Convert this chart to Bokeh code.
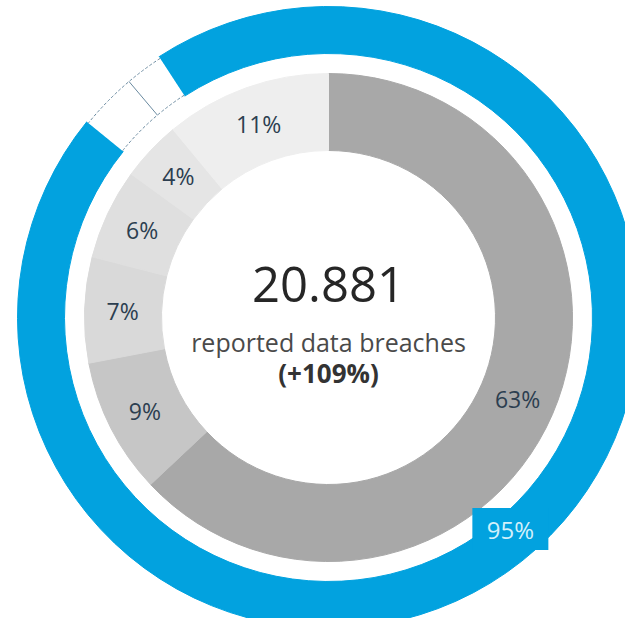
import numpy as np
from bokeh.plotting import figure
from bokeh.models import Range1d
from bokeh.embed import file_html
from bokeh.resources import INLINE
from bokeh.core.properties import value

# ---- data ----
segment_labels = ["63%", "9%", "7%", "6%", "4%", "11%"]
segment_values = [63, 9, 7, 6, 4, 11]
segment_colors = ["#a8a8a8", "#c6c6c6", "#d9d9d9", "#dfdfdf", "#e5e5e5", "#eeeeee"]

outer_value = 95          # share shown by the blue ring
gap_values = [3, 2]       # remaining share, drawn as two empty boxes
outer_label = "95%"

total_text = "20.881"
subtitle_text = "reported data breaches"
change_text = "(+109%)"

# ---- layout constants ----
BLUE = "#02a2df"
FONT = value("Open Sans")
W, H = 625, 618
CX, CY = 328, -317
R_IN, R_OUT = 167, 244          # grey ring
B_IN, B_OUT = 264, 311          # blue ring
BLUE_START = -0.0917            # start of blue ring (fraction, clockwise from top)
LABEL_R = 206


def ang(frac):
    """fraction clockwise from 12 o'clock -> math angle (rad)"""
    return np.pi / 2 - 2 * np.pi * np.asarray(frac, dtype=float)


p = figure(width=W, height=H, x_range=Range1d(0, W), y_range=Range1d(-H, 0),
           x_axis_type=None, y_axis_type=None, output_backend="svg",
           toolbar_location=None, min_border=0)
p.grid.visible = False
p.outline_line_color = None
p.background_fill_color = "white"
p.border_fill_color = "white"

# grey ring
vals = np.array(segment_values, dtype=float) / 100.0
c1 = np.cumsum(vals)
c0 = c1 - vals
p.annular_wedge(x=CX, y=CY, inner_radius=R_IN, outer_radius=R_OUT,
                start_angle=ang(c1), end_angle=ang(c0),
                fill_color=segment_colors, line_color=segment_colors, line_width=1)

# blue ring
b0 = BLUE_START
b1 = BLUE_START + outer_value / 100.0
p.annular_wedge(x=CX, y=CY, inner_radius=B_IN, outer_radius=B_OUT,
                start_angle=float(ang(b1)), end_angle=float(ang(b0)),
                fill_color=BLUE, line_color=BLUE, line_width=1)

# gap boxes
g = np.array(gap_values, dtype=float) / 100.0
g1 = b1 + np.cumsum(g)
g0 = g1 - g
p.annular_wedge(x=CX, y=CY, inner_radius=B_IN, outer_radius=B_OUT,
                start_angle=ang(g1), end_angle=ang(g0),
                fill_color="white", line_color=None)
gs, ge = float(ang(g1[-1])), float(ang(g0[0]))
for rr in (B_IN + 1, B_OUT - 2):
    p.arc(x=CX, y=CY, radius=rr, start_angle=gs, end_angle=ge,
          line_color="#6a8aa0", line_width=1, line_dash="3 2")
div = float(ang(g1[0]))
p.segment(x0=CX + (B_IN + 1) * np.cos(div), y0=CY + (B_IN + 1) * np.sin(div),
          x1=CX + (B_OUT - 2) * np.cos(div), y1=CY + (B_OUT - 2) * np.sin(div),
          line_color="#6a8aa0", line_width=1)

# 95% tag on blue ring
tag_a = float(ang(0.387))
tx, ty = CX + 279 * np.cos(tag_a), CY + 279 * np.sin(tag_a)
p.rect(x=tx, y=ty, width=76, height=42, fill_color=BLUE, line_color=None)
p.text(x=[tx], y=[ty], text=[outer_label], text_align="center", text_baseline="middle",
       text_font=FONT, text_font_size="24px", text_color="#d2f0fb")

# segment labels
mid = ang((c0 + c1) / 2)
p.text(x=CX + LABEL_R * np.cos(mid), y=CY + LABEL_R * np.sin(mid), text=segment_labels,
       text_align="center", text_baseline="middle", text_font=FONT,
       text_font_size="23px", text_color="#2c3e50")

# centre texts
p.text(x=[CX], y=[-284], text=[total_text], text_align="center", text_baseline="middle",
       text_font=FONT, text_font_size="49px", text_color="#262626")
p.text(x=[CX], y=[-341], text=[subtitle_text], text_align="center", text_baseline="middle",
       text_font=FONT, text_font_size="25px", text_color="#4a4a4a")
p.text(x=[CX], y=[-372], text=[change_text], text_align="center", text_baseline="middle",
       text_font=FONT, text_font_size="26px", text_font_style="bold", text_color="#333333")

open("out.html", "w").write(file_html(p, INLINE))
